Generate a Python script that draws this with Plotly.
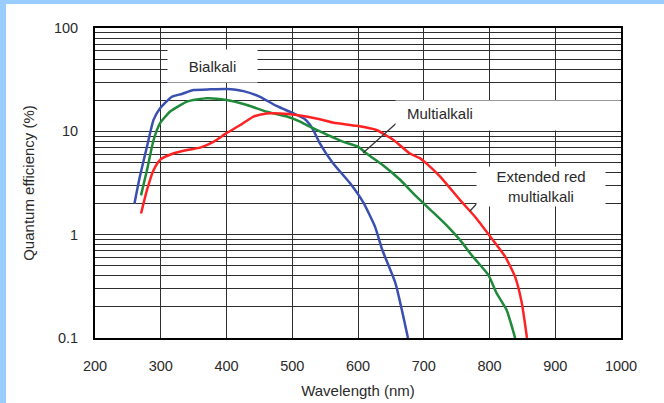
import plotly.graph_objects as go

# Wavelength (nm) and quantum efficiency (%)
bialkali_nm = [260, 268, 279, 289, 299, 317, 332, 350, 375, 400, 426, 451, 476, 502, 518, 527, 533, 542, 562, 588, 608, 626, 637, 657, 676]
bialkali_qe = [2.0, 3.6, 7.1, 12.9, 16.7, 21.6, 23.0, 25.1, 25.5, 25.7, 24.5, 21.6, 17.6, 14.9, 13.3, 11.6, 10.0, 7.65, 4.9, 3.14, 2.05, 1.19, 0.71, 0.338, 0.1]

multialkali_nm = [270, 279, 289, 299, 314, 340, 370, 400, 431, 461, 492, 512, 522, 542, 578, 600, 613, 638, 664, 689, 714, 737, 755, 775, 798, 811, 826, 839]
multialkali_qe = [2.4, 4.2, 8.2, 12.0, 15.5, 19.4, 20.9, 20.1, 18.0, 15.5, 13.9, 12.4, 11.5, 10.0, 7.9, 7.1, 6.1, 4.7, 3.4, 2.33, 1.65, 1.19, 0.89, 0.61, 0.41, 0.27, 0.187, 0.1]

extred_nm = [270, 279, 289, 299, 319, 340, 360, 380, 400, 421, 441, 461, 481, 507, 542, 563, 598, 628, 654, 679, 694, 704, 725, 755, 778, 801, 824, 839, 849, 857]
extred_qe = [1.6, 2.7, 4.2, 5.3, 6.1, 6.6, 6.95, 7.9, 9.6, 11.5, 13.9, 14.9, 14.9, 14.4, 13.1, 12.1, 11.3, 10.3, 8.25, 6.1, 5.5, 4.9, 3.64, 2.17, 1.49, 0.96, 0.61, 0.39, 0.22, 0.1]

x_ticks = [200, 300, 400, 500, 600, 700, 800, 900, 1000]
y_ticks = [0.1, 1, 10, 100]
y_tick_text = ["0.1", "1", "10", "100"]
y_minor = [m * d for d in (0.1, 1, 10) for m in range(2, 10)]

FONT = "Liberation Sans, Arial, sans-serif"
TXT = "#2a2a2a"
GRID = "#2e2e2e"

fig = go.Figure()
series = [
    ("Bialkali", bialkali_nm, bialkali_qe, "#3A50B0"),
    ("Multialkali", multialkali_nm, multialkali_qe, "#1E8A3A"),
    ("Extended red multialkali", extred_nm, extred_qe, "#FF2222"),
]
for name, xs, ys, col in series:
    fig.add_trace(go.Scatter(x=xs, y=ys, mode="lines", name=name,
                             line=dict(color=col, width=2.5, shape="spline", smoothing=0.5),
                             showlegend=False, hoverinfo="skip"))

W, H = 664, 403
L, R, T, B = 95, 43, 28, 65
pw, ph = W - L - R, H - T - B

def px(xp):
    return (xp - L) / pw

def py(yp):
    return (H - B - yp) / ph

shapes = [
    # light blue frame bands
    dict(type="rect", xref="paper", yref="paper", x0=px(0), x1=px(W), y0=py(4), y1=py(0),
         fillcolor="#99CCFF", line=dict(width=0), layer="above"),
    dict(type="rect", xref="paper", yref="paper", x0=px(0), x1=px(6), y0=py(H), y1=py(0),
         fillcolor="#99CCFF", line=dict(width=0), layer="above"),
    # leader lines
    dict(type="line", xref="paper", yref="paper", x0=px(400), y0=py(120), x1=px(363), y1=py(153),
         line=dict(color="#333333", width=1.2)),
    dict(type="line", xref="paper", yref="paper", x0=px(490), y0=py(189), x1=px(470), y1=py(211),
         line=dict(color="#333333", width=1.2)),
]

lab_font = dict(family=FONT, size=15, color=TXT)
annotations = [
    dict(text="Bialkali", xref="paper", yref="paper", x=px(212.5), y=py(66), xanchor="center", yanchor="middle",
         showarrow=False, font=lab_font, bgcolor="white", width=89, height=32, borderpad=0),
    # white backing box for Multialkali label
    dict(text=" ", xref="paper", yref="paper", x=px(395), y=py(116), xanchor="left", yanchor="middle",
         showarrow=False, font=lab_font, bgcolor="white", width=224, height=29, borderpad=0),
    dict(text="Multialkali", xref="paper", yref="paper", x=px(405), y=py(113), xanchor="left", yanchor="middle",
         showarrow=False, font=lab_font),
    dict(text="Extended red<br>multialkali", xref="paper", yref="paper", x=px(541), y=py(186), xanchor="center",
         yanchor="middle", showarrow=False, font=lab_font, bgcolor="white", width=128, height=39, borderpad=0),
]

fig.update_layout(
    width=W, height=H,
    margin=dict(l=L, r=R, t=T, b=B, pad=0, autoexpand=False),
    paper_bgcolor="white", plot_bgcolor="white",
    font=dict(family=FONT, color=TXT),
    shapes=shapes, annotations=annotations,
    xaxis=dict(range=[200, 1000], tickvals=x_ticks, ticktext=[str(v) for v in x_ticks],
               showgrid=True, gridcolor=GRID, gridwidth=1.2, zeroline=False, automargin=False,
               showline=True, mirror=True, linecolor="black", linewidth=2,
               ticks="", ticklabelstandoff=14, tickfont=dict(size=14.5, color=TXT),
               title=dict(text="Wavelength (nm)", font=dict(size=15, color=TXT), standoff=12)),
    yaxis=dict(type="log", range=[-1, 2], tickvals=y_ticks, ticktext=y_tick_text,
               showgrid=True, gridcolor=GRID, gridwidth=1.2, zeroline=False, automargin=False,
               showline=True, mirror=True, linecolor="black", linewidth=2,
               ticks="", ticklabelstandoff=12, tickfont=dict(size=14.5, color=TXT),
               minor=dict(tickmode="array", tickvals=y_minor, showgrid=True, gridcolor=GRID, gridwidth=1.2, ticks=""),
               title=dict(text="Quantum efficiency (%)", font=dict(size=15, color=TXT), standoff=16)),
)

fig.write_html("out.html", config={"displayModeBar": False},
               post_script="document.body.style.margin='0';document.body.style.overflow='hidden';")
